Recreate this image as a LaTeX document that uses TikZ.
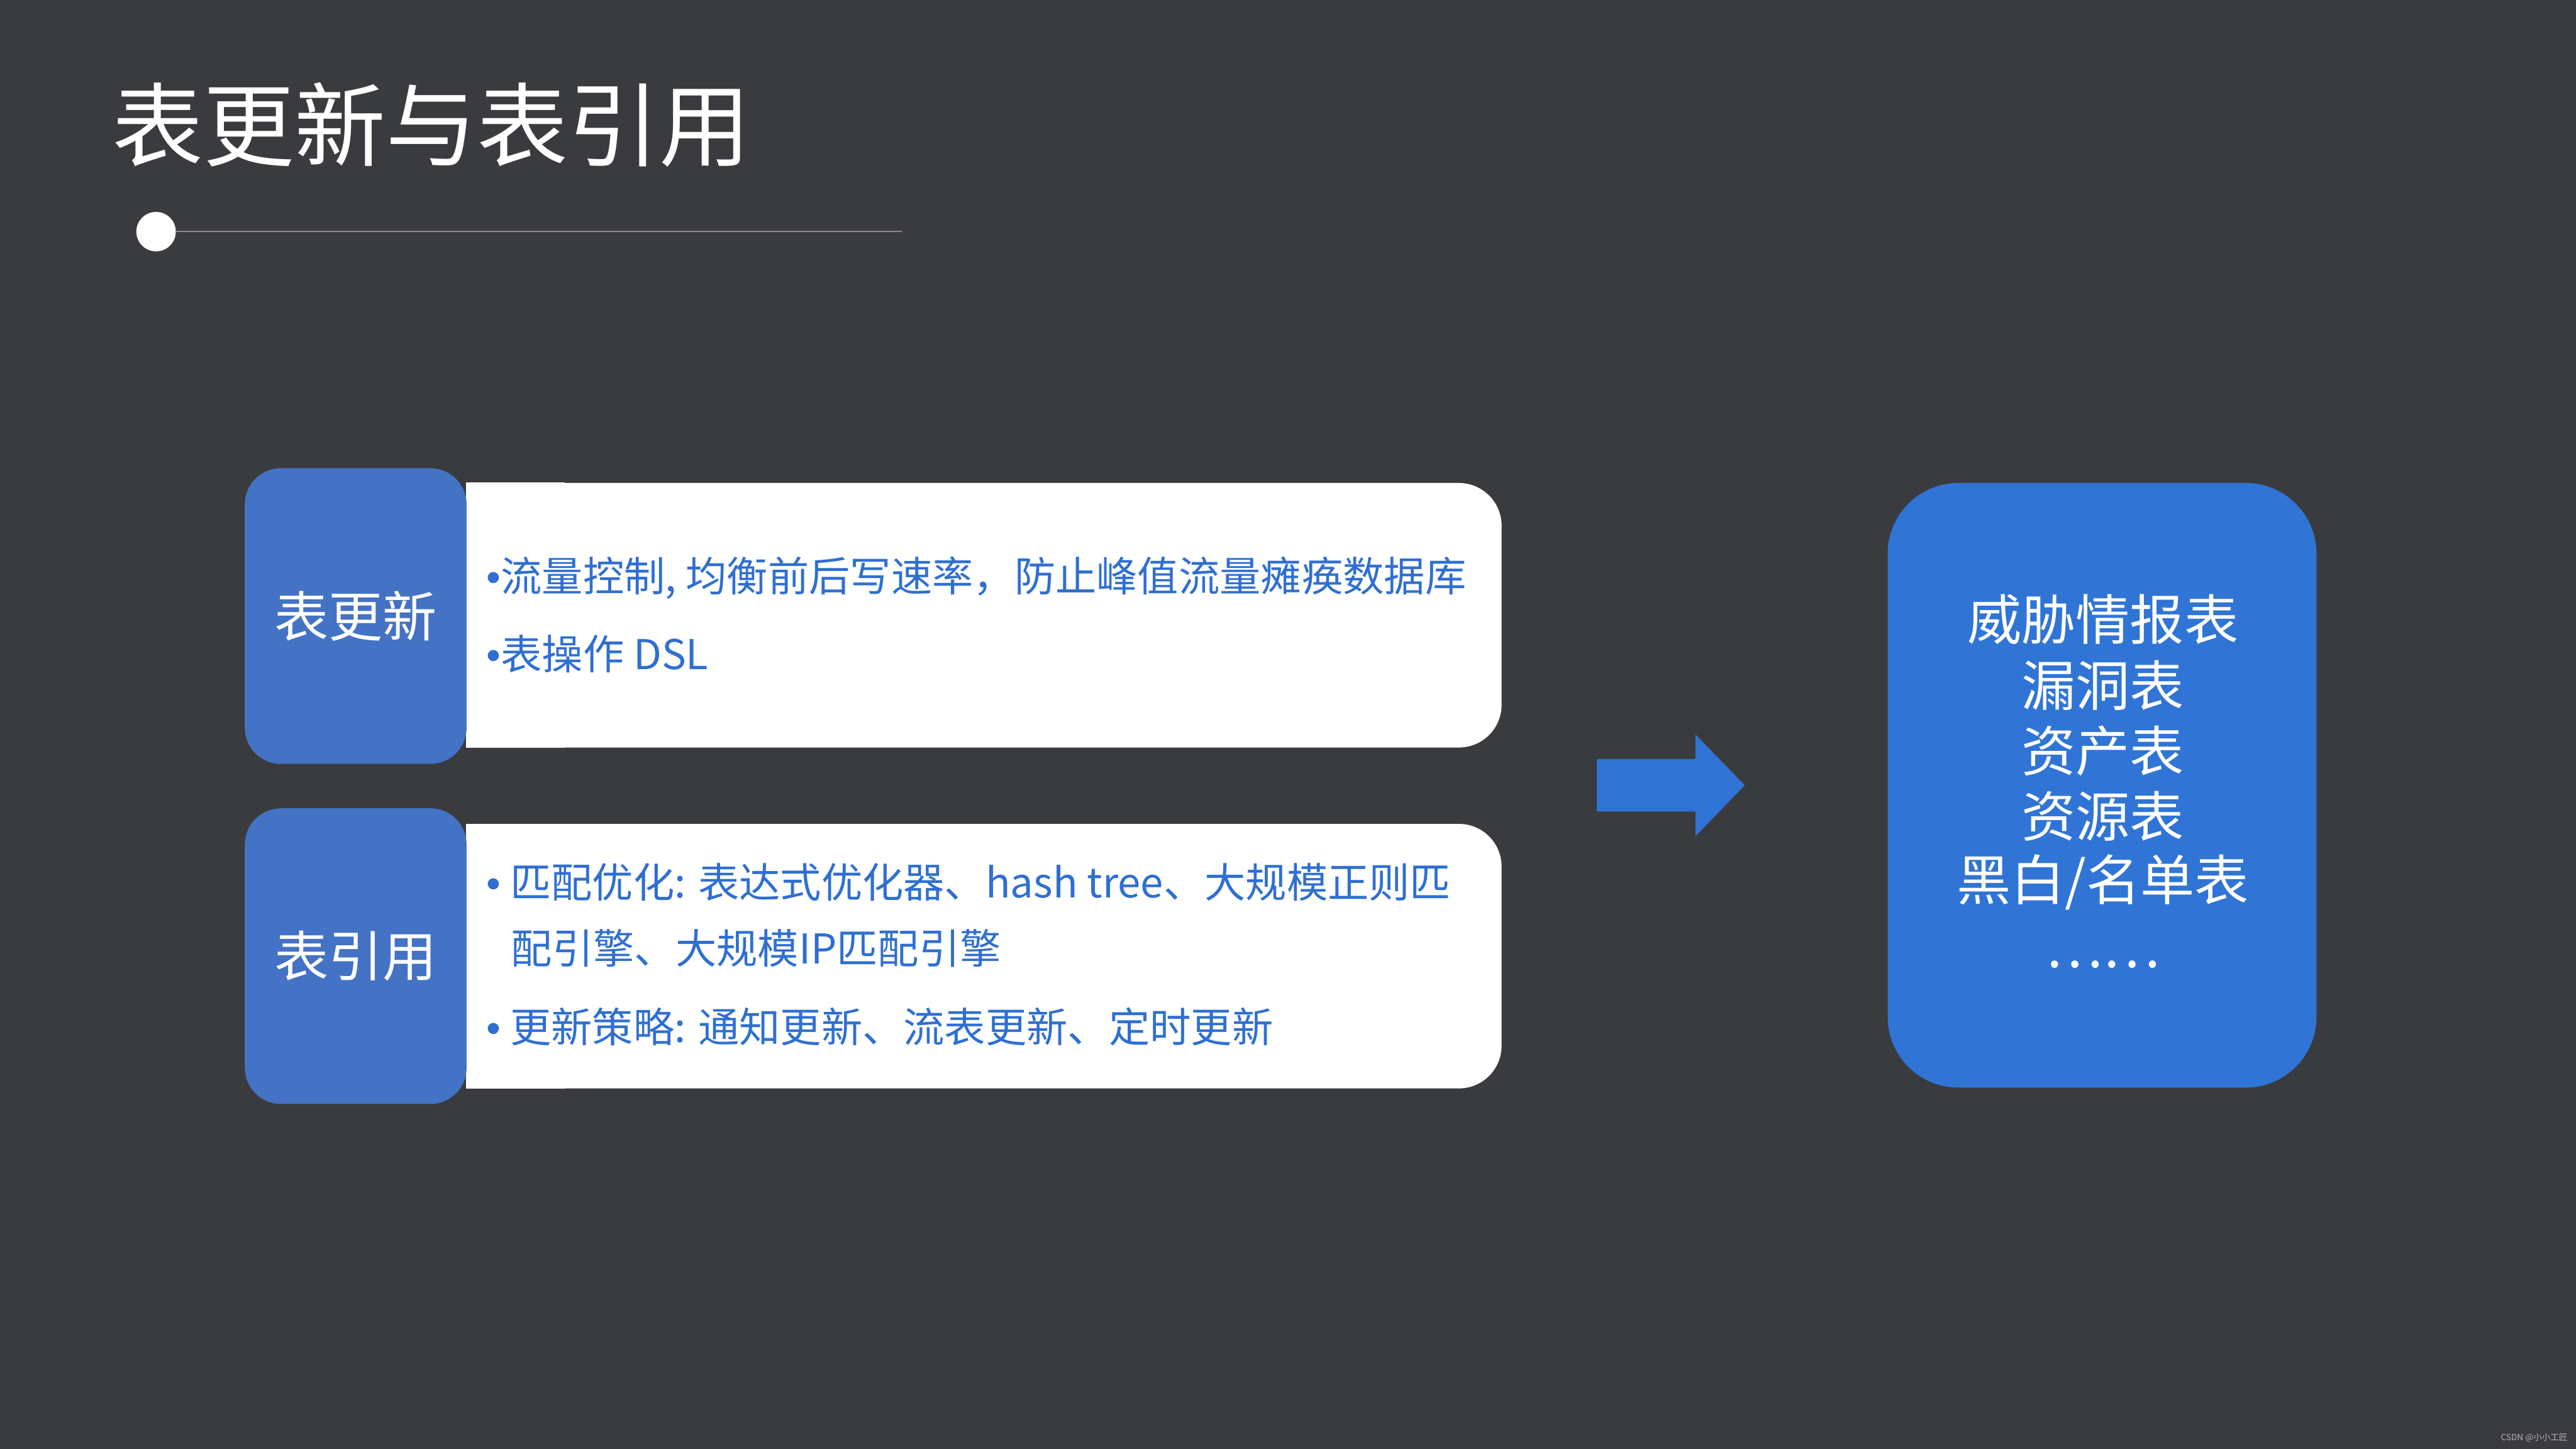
\documentclass[tikz,border=0pt]{standalone}
\usepackage{fontspec}
\setmainfont{Noto Sans CJK SC}
\newfontfamily\bulletfont{Liberation Sans}
\newcommand{\bul}{{\bulletfont •}}
\definecolor{bg}{HTML}{3A3B3E}
\definecolor{tabblue}{HTML}{4472C4}
\definecolor{boxblue}{HTML}{3075D5}
\definecolor{txtblue}{HTML}{2F6FD2}
\definecolor{rulegray}{HTML}{8E8E8E}
\definecolor{wmgray}{HTML}{B4B4B4}
\tikzset{
  tabbox/.style={fill=tabblue, rounded corners=22pt, minimum width=135pt, minimum height=180pt, inner sep=0pt,
    text=white, font=\fontsize{33}{33}\selectfont},
  whitebox/.style={fill=white, rounded corners=26pt, minimum width=630pt, minimum height=161pt, inner sep=0pt},
  bodytext/.style={anchor=west, inner sep=0pt, text=txtblue, font=\fontsize{25}{25}\selectfont},
  rightline/.style={inner sep=0pt, text=white, font=\fontsize{33}{33}\selectfont},
}
\begin{document}
\begin{tikzpicture}[x=1pt,y=-1pt]
\fill[bg] (0,0) rectangle (1568,882);
\useasboundingbox (0,0) rectangle (1568,882);
% title
\node[anchor=west, inner sep=0pt, text=white, font=\fontsize{55.5}{55.5}\selectfont] (title) at (68,76) {表更新与表引用};
\node[circle, fill=white, minimum size=24pt, inner sep=0pt] (dot) at (95,141) {};
\coordinate (ruleend) at (549,141);
\draw[rulegray, line width=0.9pt] (dot.east) -- (ruleend);
% white boxes
\node[whitebox] (w1) at (599,374.5) {};
\fill[white] (w1.north west) rectangle ([xshift=60pt]w1.south west);
\node[whitebox] (w2) at (599,582) {};
\fill[white] (w2.north west) rectangle ([xshift=60pt]w2.south west);
% tabs
\node[tabbox] (t1) at (216.5,375) {表更新};
\node[tabbox] (t2) at (216.5,582) {表引用};
% body text
\node[bodytext] (b1) at (296,352) {\bul 流量控制, 均衡前后写速率，防止峰值流量瘫痪数据库};
\node[bodytext] (b2) at (296,398) {\bul 表操作 DSL};
\node[bodytext] (c1) at (296,537) {\bul\ 匹配优化: 表达式优化器、hash tree、大规模正则匹};
\node[bodytext] (c2) at (311,577) {配引擎、大规模IP匹配引擎};
\node[bodytext] (c3) at (296,625) {\bul\ 更新策略: 通知更新、流表更新、定时更新};
% arrow
\coordinate (a1) at (972,462);
\coordinate (a2) at (1032,462);
\coordinate (a3) at (1032,447);
\coordinate (a4) at (1062,478);
\coordinate (a5) at (1032,509);
\coordinate (a6) at (1032,494);
\coordinate (a7) at (972,494);
\fill[boxblue] (a1) -- (a2) -- (a3) -- (a4) -- (a5) -- (a6) -- (a7) -- cycle;
% right box
\node[fill=boxblue, rounded corners=43pt, minimum width=261pt, minimum height=368pt, inner sep=0pt] (rb) at (1279.5,478) {};
\node[rightline] (r1) at (1280,377) {威胁情报表};
\node[rightline] (r2) at (1280,417) {漏洞表};
\node[rightline] (r3) at (1280,457) {资产表};
\node[rightline] (r4) at (1280,497) {资源表};
\node[rightline] (r5) at (1280,537) {黑白/名单表};
\node[rightline] (r6) at (1280,587) {……};
% watermark
\node[anchor=east, inner sep=0pt, text=wmgray, font=\fontsize{5.2}{5.2}\selectfont] (wm) at (1563,875) {CSDN @小小工匠};
\end{tikzpicture}
\end{document}
